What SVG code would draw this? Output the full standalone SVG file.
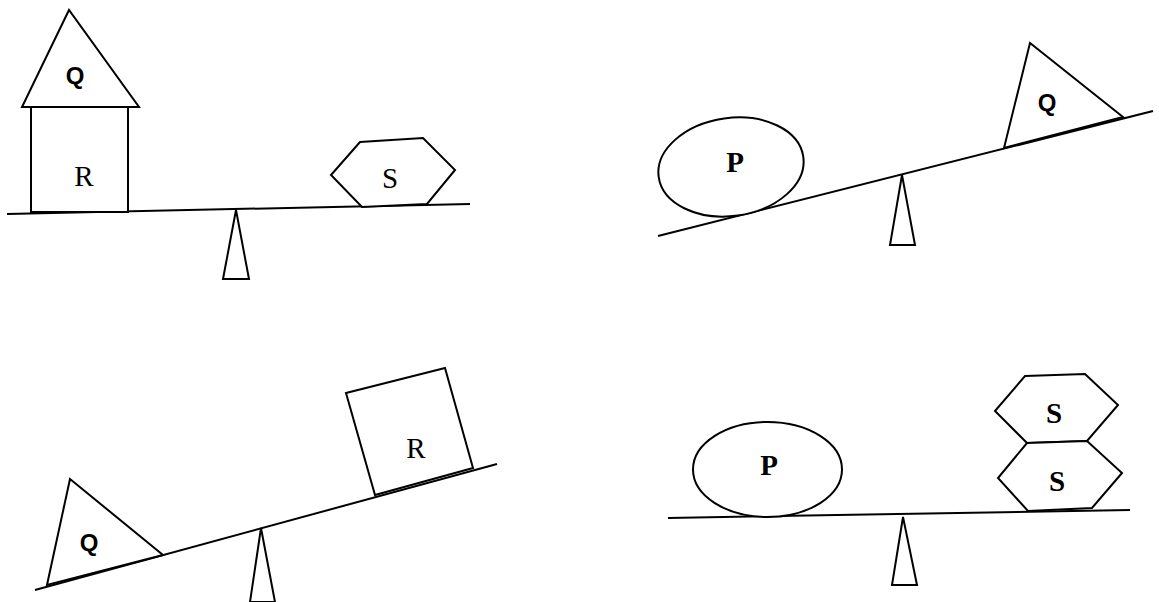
<svg xmlns="http://www.w3.org/2000/svg" width="1159" height="602" viewBox="0 0 1159 602">
<style>
.w{fill:#fff;stroke:#000;stroke-width:2}
.b{fill:none;stroke:#000;stroke-width:2}
.serif{font-family:"Liberation Serif",serif;font-size:29px;fill:#000;text-anchor:middle}
.sans{font-family:"Liberation Sans",sans-serif;font-weight:bold;font-size:24px;fill:#000;text-anchor:middle}
</style>
<rect width="1159" height="602" fill="#fff"/>
<!-- Panel 1 -->
<g id="panel1">
<g id="beam1"><line class="b" x1="7" y1="214" x2="470" y2="204"/></g>
<g id="fulcrum1"><polygon class="w" points="236,210 223,279 249,279"/></g>
<g id="Q1"><polygon class="w" points="69,10 22,107 139,107"/><text class="sans" x="75" y="84">Q</text></g>
<g id="R1"><rect class="w" x="31" y="107" width="97" height="105"/><text class="serif" x="84" y="186">R</text></g>
<g id="S1"><polygon class="w" points="360,142 423,138 455,170 427,204 362,207 331,175"/><text class="serif" x="390" y="188">S</text></g>
</g>
<!-- Panel 2 -->
<g id="panel2">
<g id="beam2"><line class="b" x1="658" y1="236" x2="1153" y2="111"/></g>
<g id="fulcrum2"><polygon class="w" points="902,175 890,245 915,245"/></g>
<g id="P2"><ellipse class="w" cx="731" cy="167" rx="73" ry="49" transform="rotate(-8 731 167)"/><text class="serif" x="735" y="172" font-weight="bold">P</text></g>
<g id="Q2"><polygon class="w" points="1030,43 1004,148 1123,117"/><text class="sans" x="1047" y="111">Q</text></g>
</g>
<!-- Panel 3 -->
<g id="panel3">
<g id="beam3"><line class="b" x1="35" y1="590" x2="497" y2="464"/></g>
<g id="fulcrum3"><polygon class="w" points="261,528 250,602 275,602"/></g>
<g id="Q3"><polygon class="w" points="70,479 47,585 163,555"/><text class="sans" x="89" y="551">Q</text></g>
<g id="R3"><polygon class="w" points="346,393 445,368 473,468 375,495"/><text class="serif" x="416" y="458">R</text></g>
</g>
<!-- Panel 4 -->
<g id="panel4">
<g id="beam4"><line class="b" x1="668" y1="518" x2="1130" y2="510"/></g>
<g id="fulcrum4"><polygon class="w" points="903,517 892,585 917,585"/></g>
<g id="P4"><ellipse class="w" cx="767.5" cy="469.5" rx="74.5" ry="47.5"/><text class="serif" x="769" y="475" font-weight="bold">P</text></g>
<g id="S4a"><polygon class="w" points="1025,376 1085,374 1118,405 1087,441 1027,443 995,411"/><text class="serif" x="1054" y="423" font-weight="bold">S</text></g>
<g id="S4b"><polygon class="w" points="1027,443 1087,441 1122,473 1092,508 1028,511 998,478"/><text class="serif" x="1057" y="491" font-weight="bold">S</text></g>
</g>
</svg>
